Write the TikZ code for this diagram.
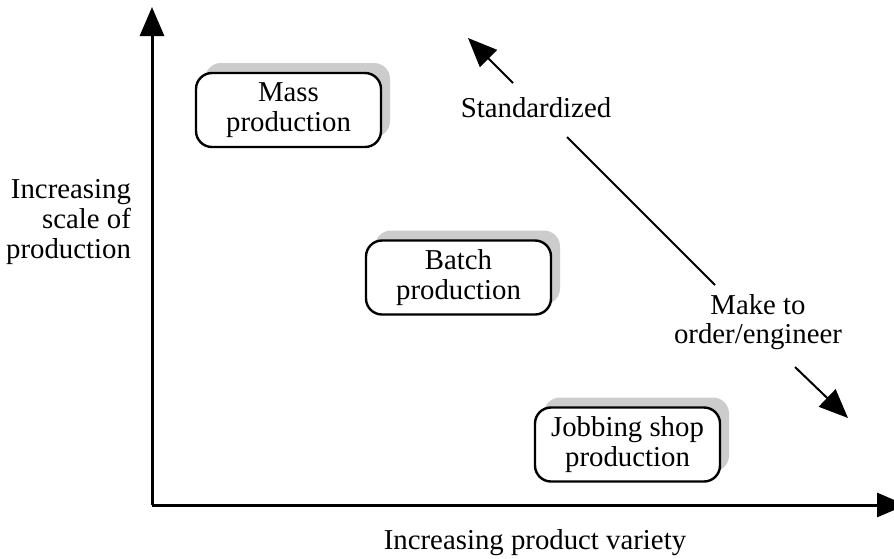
\documentclass[tikz,border=0pt]{standalone}
\usepackage{fontspec}
\setmainfont{Liberation Serif}
\usepackage{tikz}
\usetikzlibrary{arrows.meta,shadows}

\begin{document}
\begin{tikzpicture}[x=0.5pt, y=-0.5pt,
        font=\fontsize{14.4pt}{14.8pt}\selectfont,
        >={Triangle[width=12pt,length=14.5pt]},
        kind/.style={draw, rectangle, rounded corners=8pt, line width=1.2pt,
            minimum width=92.5pt, minimum height=37pt, align=center, fill=white,
            font=\fontsize{14.4pt}{15pt}\selectfont,
            drop shadow={shadow xshift=4.5pt, shadow yshift=5pt, fill=gray!40, opacity=1}},
        axis/.style={->, line width=1.5pt},
        trend/.style={line width=1pt}]
    \useasboundingbox (0,0) rectangle (894,558);

    % axes
    \coordinate (origin) at (152,505);
    \coordinate (ytip) at (152,7);
    \coordinate (xtip) at (906,505);
    \draw[axis] (origin) -- (ytip);
    \draw[axis] (origin) -- (xtip);

    \node[align=right, anchor=east] (scale) at (138,222) {Increasing\\scale of\\production};
    \node (variety) at (535,543) {Increasing product variety};

    % process types
    \node[kind] (mass) at (288.5,110) {Mass\\production};
    \node[kind] (batch) at (458.5,277.5) {Batch\\production};
    \node[kind] (jobbing) at (627.5,444.5) {Jobbing shop\\production};

    % standardized vs. make to order
    \node (std) at (536,108) {Standardized};
    \node[align=center] (mto) at (758,322) {Make to\\order/engineer};

    \coordinate (stdtip) at (468,38);
    \coordinate (stdend) at (513,83);
    \coordinate (diagtop) at (567,137);
    \coordinate (diagbot) at (715,285);
    \coordinate (mtoend) at (795,367);
    \coordinate (mtotip) at (848,418);

    \draw[->, trend] (stdend) -- (stdtip);
    \draw[trend] (diagtop) -- (diagbot);
    \draw[->, trend] (mtoend) -- (mtotip);
\end{tikzpicture}
\end{document}
